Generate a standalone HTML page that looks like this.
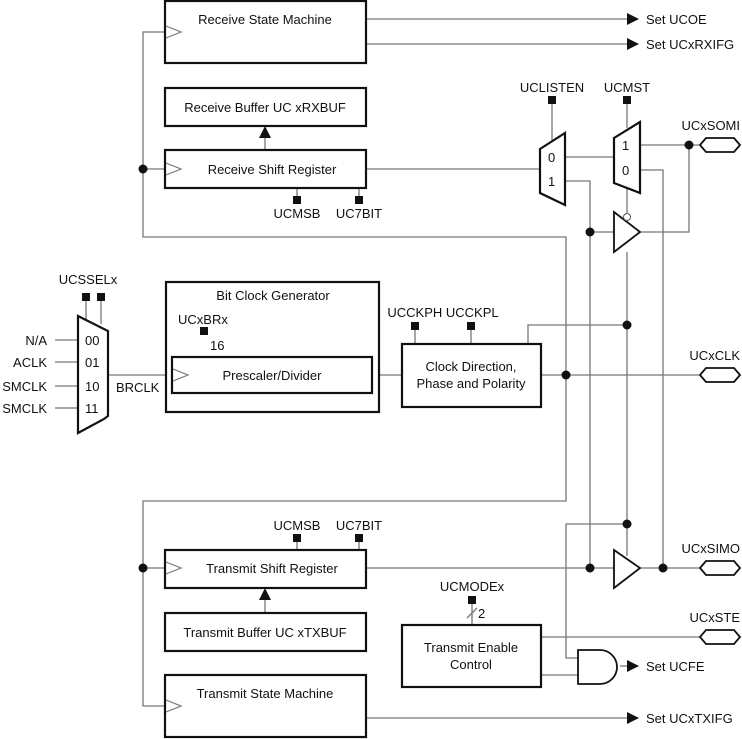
<!DOCTYPE html>
<html><head><style>body{margin:0;background:#fff}svg{display:block}text{font-family:"Liberation Sans",sans-serif;font-size:13px;fill:#111}</style></head><body>
<svg width="742" height="739" viewBox="0 0 742 739" xmlns="http://www.w3.org/2000/svg">
<g fill="none" stroke="#777" stroke-width="1.3">
<polyline points="166,32 143,32 143,237 566,237 566,501 143,501 143,706 166,706"/>
<line x1="143" y1="169" x2="166" y2="169"/>
<line x1="143" y1="568" x2="166" y2="568"/>
<line x1="366" y1="19" x2="628" y2="19"/>
<line x1="366" y1="44" x2="628" y2="44"/>
<line x1="366" y1="718" x2="628" y2="718"/>
<line x1="366" y1="169" x2="540" y2="169"/>
<line x1="265" y1="150" x2="265" y2="136"/>
<line x1="265" y1="613" x2="265" y2="598"/>
<line x1="297" y1="188" x2="297" y2="198"/>
<line x1="359" y1="188" x2="359" y2="198"/>
<line x1="297" y1="550" x2="297" y2="540"/>
<line x1="359" y1="550" x2="359" y2="540"/>
<line x1="552" y1="100" x2="552" y2="140"/>
<line x1="627" y1="100" x2="627" y2="128"/>
<line x1="565" y1="157" x2="614" y2="157"/>
<polyline points="565,181 590,181 590,568"/>
<line x1="590" y1="232" x2="614" y2="232"/>
<line x1="627" y1="188" x2="627" y2="213"/>
<line x1="627" y1="252" x2="627" y2="556"/>
<polyline points="640,232 689,232 689,145"/>
<line x1="640" y1="145" x2="700" y2="145"/>
<polyline points="640,170 663,170 663,568"/>
<polyline points="627,325 528,325 528,344"/>
<line x1="415" y1="330" x2="415" y2="344"/>
<line x1="471" y1="330" x2="471" y2="344"/>
<line x1="541" y1="375" x2="700" y2="375"/>
<line x1="372" y1="375" x2="402" y2="375"/>
<line x1="366" y1="568" x2="614" y2="568"/>
<line x1="640" y1="568" x2="700" y2="568"/>
<polyline points="627,524 566,524 566,658 578,658"/>
<line x1="541" y1="637" x2="700" y2="637"/>
<line x1="541" y1="675" x2="578" y2="675"/>
<line x1="620" y1="666" x2="628" y2="666"/>
<line x1="472" y1="603" x2="472" y2="625"/>
<line x1="467" y1="618" x2="477" y2="608"/>
<line x1="55" y1="340" x2="78" y2="340"/>
<line x1="55" y1="362" x2="78" y2="362"/>
<line x1="55" y1="386" x2="78" y2="386"/>
<line x1="55" y1="408" x2="78" y2="408"/>
<line x1="86" y1="300" x2="86" y2="319"/>
<line x1="101" y1="300" x2="101" y2="324"/>
<line x1="108" y1="375" x2="172" y2="375"/>
<line x1="204" y1="334" x2="204" y2="357"/>
<line x1="199" y1="350" x2="209" y2="340"/>
</g>
<g fill="#fff" stroke="#111" stroke-width="2.2">
<rect x="165" y="1" width="201" height="62"/>
<rect x="165" y="88" width="201" height="38"/>
<rect x="165" y="150" width="201" height="38"/>
<rect x="166" y="282" width="213" height="130"/>
<rect x="172" y="357" width="200" height="36"/>
<rect x="402" y="344" width="139" height="63"/>
<rect x="165" y="550" width="201" height="38"/>
<rect x="165" y="613" width="201" height="38"/>
<rect x="165" y="675" width="201" height="62"/>
<rect x="402" y="625" width="139" height="62"/>
<polygon points="540,149 565,133 565,205 540,193"/>
<polygon points="614,138 640,122 640,193 614,183"/>
<polygon points="614,212 640,232 614,252" stroke-width="1.8"/>
<polygon points="614,550 640,568 614,588" stroke-width="1.8"/>
<polygon points="78,316 108,331 108,416 104,419 78,433"/>
<path d="M578,650 H600 A17,17 0 0 1 600,684 H578 Z" stroke-width="1.8"/>
<polygon points="700,145 706,138 734,138 740,145 734,152 706,152" stroke-width="1.8"/>
<polygon points="700,375 706,368 734,368 740,375 734,382 706,382" stroke-width="1.8"/>
<polygon points="700,568 706,561 734,561 740,568 734,575 706,575" stroke-width="1.8"/>
<polygon points="700,637 706,630 734,630 740,637 734,644 706,644" stroke-width="1.8"/>
</g>
<circle cx="627" cy="217" r="3.5" fill="#fff" stroke="#555" stroke-width="1"/>
<g fill="none" stroke="#777" stroke-width="1.2">
<polyline points="166,26 181,32 166,38"/>
<polyline points="166,163 181,169 166,175"/>
<polyline points="173,369 188,375 173,381"/>
<polyline points="166,562 181,568 166,574"/>
<polyline points="166,700 181,706 166,712"/>
</g>
<g fill="#111">
<circle cx="143" cy="169" r="4.5"/><circle cx="143" cy="568" r="4.5"/>
<circle cx="590" cy="232" r="4.5"/><circle cx="689" cy="145" r="4.5"/>
<circle cx="627" cy="325" r="4.5"/><circle cx="566" cy="375" r="4.5"/>
<circle cx="627" cy="524" r="4.5"/><circle cx="590" cy="568" r="4.5"/><circle cx="663" cy="568" r="4.5"/>
<rect x="293" y="196" width="8" height="8"/><rect x="355" y="196" width="8" height="8"/>
<rect x="293" y="534" width="8" height="8"/><rect x="355" y="534" width="8" height="8"/>
<rect x="548" y="96" width="8" height="8"/><rect x="623" y="96" width="8" height="8"/>
<rect x="411" y="322" width="8" height="8"/><rect x="467" y="322" width="8" height="8"/>
<rect x="468" y="596" width="8" height="8"/>
<rect x="82" y="293" width="8" height="8"/><rect x="97" y="293" width="8" height="8"/>
<rect x="200" y="327" width="8" height="8"/>
<polygon points="259,138 265,126 271,138"/>
<polygon points="259,600 265,588 271,600"/>
<polygon points="627,13 639,19 627,25"/><polygon points="627,38 639,44 627,50"/>
<polygon points="627,660 639,666 627,672"/><polygon points="627,712 639,718 627,724"/>
</g>
<text x="265" y="24" text-anchor="middle">Receive State Machine</text>
<text x="265" y="112" text-anchor="middle">Receive Buffer UC xRXBUF</text>
<text x="272" y="174" text-anchor="middle">Receive Shift Register</text>
<text x="297" y="218" text-anchor="middle">UCMSB</text>
<text x="359" y="218" text-anchor="middle">UC7BIT</text>
<text x="646" y="24">Set UCOE</text>
<text x="646" y="49">Set UCxRXIFG</text>
<text x="552" y="92" text-anchor="middle">UCLISTEN</text>
<text x="627" y="92" text-anchor="middle">UCMST</text>
<text x="548" y="162">0</text><text x="548" y="186">1</text>
<text x="622" y="150">1</text><text x="622" y="175">0</text>
<text x="740" y="130" text-anchor="end">UCxSOMI</text>
<text x="740" y="360" text-anchor="end">UCxCLK</text>
<text x="740" y="553" text-anchor="end">UCxSIMO</text>
<text x="740" y="622" text-anchor="end">UCxSTE</text>
<text x="88" y="284" text-anchor="middle">UCSSELx</text>
<text x="47" y="345" text-anchor="end">N/A</text>
<text x="47" y="367" text-anchor="end">ACLK</text>
<text x="47" y="391" text-anchor="end">SMCLK</text>
<text x="47" y="413" text-anchor="end">SMCLK</text>
<text x="85" y="345">00</text><text x="85" y="367">01</text><text x="85" y="391">10</text><text x="85" y="413">11</text>
<text x="116" y="392">BRCLK</text>
<text x="273" y="300" text-anchor="middle">Bit Clock Generator</text>
<text x="178" y="324">UCxBRx</text>
<text x="210" y="350">16</text>
<text x="272" y="380" text-anchor="middle">Prescaler/Divider</text>
<text x="443" y="317" text-anchor="middle">UCCKPH UCCKPL</text>
<text x="471" y="371" text-anchor="middle">Clock Direction,</text>
<text x="471" y="388" text-anchor="middle">Phase and Polarity</text>
<text x="297" y="530" text-anchor="middle">UCMSB</text>
<text x="359" y="530" text-anchor="middle">UC7BIT</text>
<text x="272" y="573" text-anchor="middle">Transmit Shift Register</text>
<text x="265" y="637" text-anchor="middle">Transmit Buffer UC xTXBUF</text>
<text x="265" y="698" text-anchor="middle">Transmit State Machine</text>
<text x="472" y="591" text-anchor="middle">UCMODEx</text>
<text x="478" y="618">2</text>
<text x="471" y="652" text-anchor="middle">Transmit Enable</text>
<text x="471" y="669" text-anchor="middle">Control</text>
<text x="646" y="671">Set UCFE</text>
<text x="646" y="723">Set UCxTXIFG</text>
</svg>
</body></html>
